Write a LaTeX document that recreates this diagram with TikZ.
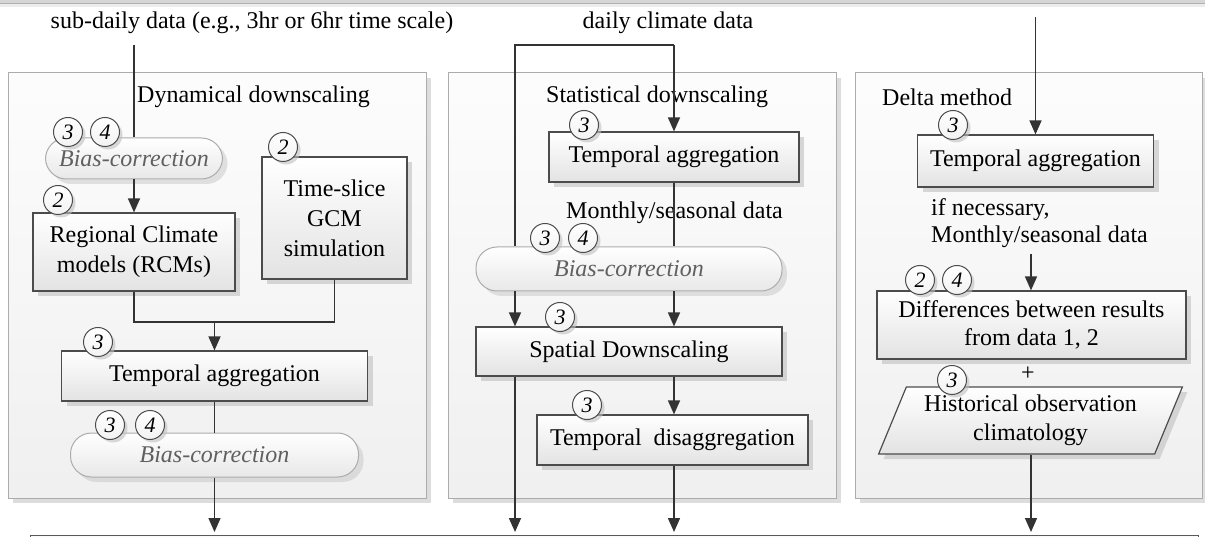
\documentclass[tikz,border=0pt]{standalone}
\usepackage{fontspec}
\setmainfont{Liberation Serif}
\usetikzlibrary{arrows.meta,shadows,shapes.geometric,calc}

\tikzset{
  txt/.style={font=\fontsize{24}{30}\selectfont, inner sep=0pt},
  panel/.style={draw=gray!65, line width=1pt, top color=gray!2, bottom color=gray!12,
    inner sep=0pt,
    drop shadow={shadow xshift=5pt, shadow yshift=-5pt, fill=gray!45, opacity=0.6}},
  box/.style={draw=black!70, line width=1.2pt, top color=white, bottom color=gray!22,
    inner sep=0pt, align=center, font=\fontsize{24}{30}\selectfont,
    drop shadow={shadow xshift=5pt, shadow yshift=-5pt, fill=gray!50, opacity=0.6}},
  bias/.style={draw=gray!65, line width=1pt, rounded corners=21pt, top color=white,
    bottom color=gray!18, inner sep=0pt, text=gray!75!black,
    font=\fontsize{24}{30}\selectfont\itshape,
    drop shadow={shadow xshift=5pt, shadow yshift=-5pt, fill=gray!45, opacity=0.5}},
  badge/.style={circle, draw=black!70, line width=1pt, top color=white, bottom color=gray!10,
    minimum size=29pt, inner sep=0pt, font=\fontsize{22}{22}\selectfont\itshape,
    drop shadow={shadow xshift=3pt, shadow yshift=-3pt, fill=gray!50, opacity=0.6}},
  link/.style={draw=black!80, line width=1.5pt},
  arr/.style={link, -{Triangle[length=14pt,width=12pt]}},
}

\begin{document}
\begin{tikzpicture}[x=1pt,y=-1pt]
\useasboundingbox (0,0) rectangle (1205,537);

% strip of the box above and the box below
\fill[gray!14] (-5,-5) rectangle (1210,7);
\fill[gray!32] (-5,-5) rectangle (1210,4);
\draw[gray!60, line width=1pt] (-5,4) -- (1210,4);
\path[draw=black!65, line width=1pt, fill=gray!4] (30,535) rectangle (1198,560);

% three method panels
\node[panel, minimum width=418pt, minimum height=425pt] (dynpanel) at (217,285.5) {};
\node[panel, minimum width=388pt, minimum height=425pt] (statpanel) at (642,285.5) {};
\node[panel, minimum width=347pt, minimum height=425pt] (deltapanel) at (1028.5,285.5) {};

% headings
\node[txt] (subdaily) at (252,23) {sub-daily data (e.g., 3hr or 6hr time scale)};
\node[txt] (daily) at (668,23) {daily climate data};
\node[txt, anchor=west] (dyntitle) at (137,97) {Dynamical downscaling};
\node[txt, anchor=west] (stattitle) at (546,97) {Statistical downscaling};
\node[txt, anchor=west] (deltatitle) at (882,97) {Delta method};

% ---- dynamical downscaling ----
\node[bias, minimum width=177pt, minimum height=41pt] (bias1) at (134,158.5) {Bias-correction};
\node[box, minimum width=202pt, minimum height=78pt] (rcm) at (134,252) {Regional Climate\\models (RCMs)};
\node[box, minimum width=145pt, minimum height=122pt] (gcm) at (334.5,218) {Time-slice\\GCM\\simulation};
\node[box, minimum width=306pt, minimum height=50pt] (ta1) at (214.5,376) {Temporal aggregation};
\node[bias, minimum width=288pt, minimum height=44pt] (bias2) at (214.5,455) {Bias-correction};

% ---- statistical downscaling ----
\node[box, minimum width=250pt, minimum height=50pt] (ta2) at (674,157) {Temporal aggregation};
\node[txt] (monthly1) at (674.5,213) {Monthly/seasonal data};
\node[bias, minimum width=306pt, minimum height=44pt] (bias3) at (629,269) {Bias-correction};
\node[box, minimum width=306pt, minimum height=49pt] (spat) at (629,351.5) {Spatial Downscaling};
\node[box, minimum width=271pt, minimum height=50pt] (td) at (672.5,440) {Temporal\ \ disaggregation};

% ---- delta method ----
\node[box, minimum width=236pt, minimum height=52pt] (ta3) at (1035.5,161) {Temporal aggregation};
\node[txt, anchor=west, align=left, font=\fontsize{24}{27}\selectfont] (monthly2) at (931,223.5) {if necessary,\\Monthly/seasonal data};
\node[box, minimum width=309pt, minimum height=68pt, font=\fontsize{24}{28}\selectfont] (diff) at (1031.5,325) {Differences between results\\from data 1, 2};
\node[txt] (plus) at (1028,374) {+};
\node[box, trapezium, trapezium left angle=65, trapezium right angle=115, trapezium stretches=true,
  minimum width=305pt, minimum height=67pt, font=\fontsize{24}{29}\selectfont] (hist) at (1030.5,420.5) {Historical observation\\climatology};

% end points of the flows
\coordinate (subsrc) at (134,45);
\coordinate (dailysrc) at (674,45);
\coordinate (dcorner) at (515,45);
\coordinate (deltasrc) at (1035.5,17);
\coordinate (join1) at (214.5,322);
\coordinate (mstart) at (1031,254);
\coordinate (out1) at (214.5,532);
\coordinate (out2) at (515,532);
\coordinate (out3) at (674,532);
\coordinate (out4) at (1031,532);

% connectors: dynamical
\draw[link] (subsrc) -- (bias1.north);
\draw[arr] (bias1.south) -- (rcm.north);
\draw[link] (rcm.south) |- (join1) -| (gcm.south);
\draw[arr] (join1) -- (ta1.north);
\draw[link] (ta1.south) -- (bias2.north);
\draw[arr] (bias2.south) -- (out1);

% connectors: statistical
\draw[link] (dailysrc) -- (dcorner) -- (dcorner |- bias3.north);
\draw[arr] (dailysrc) -- (ta2.north);
\draw[link] (ta2.south) -- (ta2.south |- bias3.north);
\draw[arr] (bias3.south -| dcorner) -- (dcorner |- spat.north);
\draw[arr] (bias3.south -| ta2) -- (ta2 |- spat.north);
\draw[arr] (spat.south -| dcorner) -- (out2);
\draw[arr] (spat.south -| ta2) -- (ta2 |- td.north);
\draw[arr] (td.south -| ta2) -- (out3);

% connectors: delta
\draw[arr] (deltasrc) -- (ta3.north);
\draw[arr] (mstart) -- (mstart |- diff.north);
\draw[arr] (hist.south -| out4) -- (out4);

% step numbers
\node[badge] (n1a) at (68,132) {3};
\node[badge] (n1b) at (105,132) {4};
\node[badge] (n2) at (58,200) {2};
\node[badge] (n3) at (283,147) {2};
\node[badge] (n4) at (98,342) {3};
\node[badge] (n5a) at (110,425) {3};
\node[badge] (n5b) at (150,425) {4};
\node[badge] (n6) at (584,125) {3};
\node[badge] (n7a) at (545,238) {3};
\node[badge] (n7b) at (583,238) {4};
\node[badge] (n8) at (560,317) {3};
\node[badge] (n9) at (587,405) {3};
\node[badge] (n10) at (953,125) {3};
\node[badge] (n11a) at (920,280) {2};
\node[badge] (n11b) at (957,280) {4};
\node[badge] (n12) at (952,380) {3};
\end{tikzpicture}
\end{document}
